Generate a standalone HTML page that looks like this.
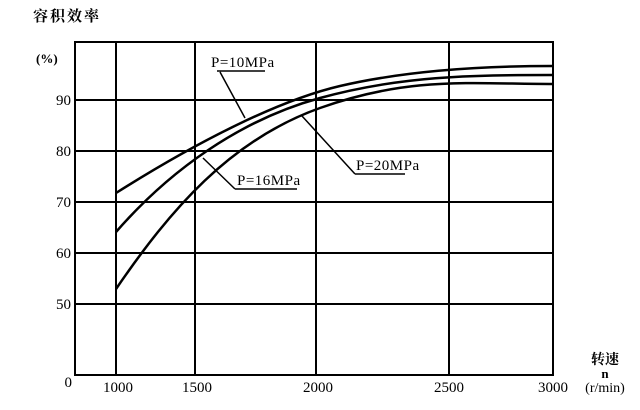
<!DOCTYPE html><html><head><style>body{margin:0;background:#fff}svg{display:block}text{font-family:"Liberation Serif","Noto Serif CJK SC",serif;fill:#000}</style></head><body>
<svg width="640" height="410" xmlns="http://www.w3.org/2000/svg">
<g stroke="#000" stroke-width="2" fill="none">
<rect x="75" y="42" width="478" height="333"/>
<line x1="116" y1="42" x2="116" y2="375"/><line x1="195" y1="42" x2="195" y2="375"/>
<line x1="316" y1="42" x2="316" y2="375"/><line x1="449" y1="42" x2="449" y2="375"/>
<line x1="75" y1="100" x2="553" y2="100"/><line x1="75" y1="151" x2="553" y2="151"/>
<line x1="75" y1="202" x2="553" y2="202"/><line x1="75" y1="253" x2="553" y2="253"/>
<line x1="75" y1="304" x2="553" y2="304"/>
<g stroke-width="2.5">
<path d="M116,193 C200,140 280,100 340,86 S470,66 553,66"/>
<path d="M116,232 C170,170 240,120 320,98 S470,75 553,75"/>
<path d="M116,289 C170,210 230,140 320,108 S470,84 553,84"/>
</g>
<g stroke-width="1.5">
<path d="M217,71 H265 M220,72 L245,118"/>
<path d="M235,189 H297 M235,189 L203,158"/>
<path d="M355,174 H405 M355,174 L302,116"/>
</g>
</g>
<text x="33" y="21" font-size="15" font-weight="bold" font-family="Noto Sans CJK SC,sans-serif" letter-spacing="2">容积效率</text>
<text x="36" y="63" font-size="13" font-weight="bold">(%)</text>
<g font-size="15" text-anchor="end">
<text x="71" y="105">90</text><text x="71" y="156">80</text><text x="71" y="207">70</text><text x="71" y="258">60</text><text x="71" y="309">50</text><text x="72" y="387">0</text>
</g>
<g font-size="15" text-anchor="middle">
<text x="118" y="392">1000</text><text x="197" y="392">1500</text><text x="318" y="392">2000</text><text x="449" y="392">2500</text><text x="553" y="392">3000</text>
</g>
<text x="211" y="67" font-size="15" letter-spacing="0.5">P=10MPa</text>
<text x="237" y="185" font-size="15" letter-spacing="0.5">P=16MPa</text>
<text x="356" y="170" font-size="15" letter-spacing="0.5">P=20MPa</text>
<text x="605" y="364" font-size="14" text-anchor="middle" font-weight="bold" font-family="Noto Serif CJK SC,serif">转速</text>
<text x="605" y="378" font-size="13" text-anchor="middle" font-weight="bold">n</text>
<text x="605" y="392" font-size="14" text-anchor="middle">(r/min)</text>
</svg></body></html>
